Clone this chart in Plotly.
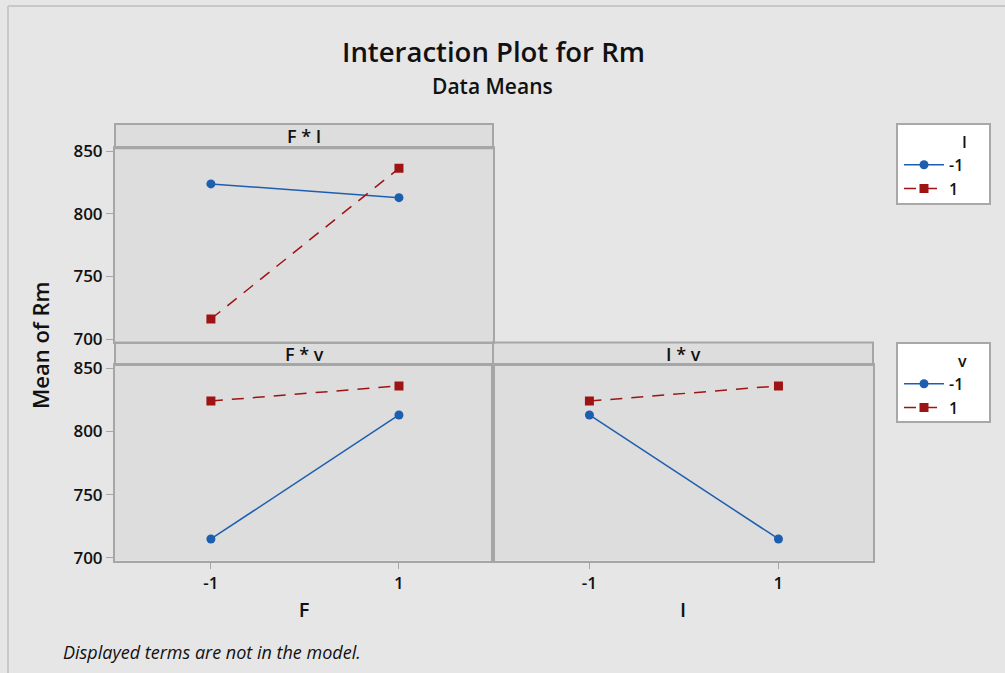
import plotly.graph_objects as go

# ---- data ----
levels = [-1, 1]
tick_vals_y = [700, 750, 800, 850]

# Panel F * I : x = F, series = I
fi_I_minus1 = [824.0, 813.0]
fi_I_plus1 = [716.0, 836.5]
# Panel F * v : x = F, series = v
fv_v_minus1 = [715.0, 813.0]
fv_v_plus1 = [824.0, 836.0]
# Panel I * v : x = I, series = v
iv_v_minus1 = [813.0, 715.0]
iv_v_plus1 = [824.0, 836.0]

series_names = ["-1", "1"]
panel_titles = ["F * I", "F * v", "I * v"]

# ---- style ----
W, H = 1005, 673
BLUE = "#1D5FAE"
RED = "#9E1414"
BORDER = "#A6A6A6"
PANEL = "#DDDDDD"
PAPER = "#E6E6E6"
FONT = "Open Sans"
TXT = "#111111"


def px(x):
    return x / W


def py(y):
    return 1 - y / H


fig = go.Figure()


def add_pair(xa, ya, lo_vals, hi_vals, legend, show):
    fig.add_trace(go.Scatter(
        x=levels, y=lo_vals, name=series_names[0], xaxis=xa, yaxis=ya,
        mode="lines+markers", line=dict(color=BLUE, width=1.5),
        marker=dict(symbol="circle", size=9, color=BLUE),
        legend=legend, showlegend=show))
    fig.add_trace(go.Scatter(
        x=levels, y=hi_vals, name=series_names[1], xaxis=xa, yaxis=ya,
        mode="lines+markers", line=dict(color=RED, width=1.5, dash="12px,9px"),
        marker=dict(symbol="square", size=9, color=RED),
        legend=legend, showlegend=show))


add_pair("x", "y", fi_I_minus1, fi_I_plus1, "legend", True)
add_pair("x2", "y2", fv_v_minus1, fv_v_plus1, "legend2", True)
add_pair("x3", "y3", iv_v_minus1, iv_v_plus1, "legend2", False)

YR = [698, 852.5]
XR = [-2.02, 2.0]
top_y = [py(341.5), py(148.3)]
bot_y = [py(560.5), py(365)]
left_x = [px(115), px(493)]
right_x = [px(493), px(873)]

axis_common = dict(showgrid=False, zeroline=False, showline=True, linecolor=BORDER,
                   linewidth=2, mirror=True, automargin=False)
tickfont = dict(family=FONT, size=17, color=TXT, weight=600)
yaxis_common = dict(axis_common, range=YR, tickvals=tick_vals_y, ticks="outside",
                    ticklen=7, tickcolor=BORDER, tickfont=tickfont)
xaxis_ticks = dict(axis_common, range=XR, tickvals=levels, ticktext=["-1", "1"],
                   ticks="outside", ticklen=6, tickcolor=BORDER, tickfont=tickfont)
axtitle_font = dict(family=FONT, size=20, color=TXT, weight=600)
legfont = dict(family=FONT, size=16, color=TXT, weight=600)

fig.update_layout(
    width=W, height=H,
    margin=dict(l=0, r=0, t=0, b=0, autoexpand=False),
    paper_bgcolor=PAPER, plot_bgcolor=PANEL,
    font=dict(family=FONT, color=TXT),
    xaxis=dict(axis_common, domain=left_x, range=XR, showticklabels=False, ticks="", anchor="y"),
    yaxis=dict(yaxis_common, domain=top_y, anchor="x"),
    xaxis2=dict(xaxis_ticks, domain=left_x, anchor="y2",
                title=dict(text="F", font=axtitle_font, standoff=10)),
    yaxis2=dict(yaxis_common, domain=bot_y, anchor="x2"),
    xaxis3=dict(xaxis_ticks, domain=right_x, anchor="y3",
                title=dict(text="I", font=axtitle_font, standoff=10)),
    yaxis3=dict(yaxis_common, domain=bot_y, anchor="x3", showticklabels=False, ticks=""),
    legend=dict(x=px(899), y=py(127), xanchor="left", yanchor="top",
                bgcolor="rgba(0,0,0,0)", borderwidth=0, font=legfont,
                title=dict(text="I", side="top right", font=legfont),
                tracegroupgap=0, itemwidth=40),
    legend2=dict(x=px(899), y=py(346), xanchor="left", yanchor="top",
                 bgcolor="rgba(0,0,0,0)", borderwidth=0, font=legfont,
                 title=dict(text="v", side="top right", font=legfont),
                 tracegroupgap=0, itemwidth=40),
)

shapes = [
    # outer frame lines
    dict(type="line", xref="paper", yref="paper", x0=px(8), x1=px(8), y0=0, y1=py(6),
         line=dict(color="#C8C8C8", width=2)),
    dict(type="line", xref="paper", yref="paper", x0=px(8), x1=1, y0=py(6), y1=py(6),
         line=dict(color="#C8C8C8", width=2)),
    # strip headers
    dict(type="rect", xref="paper", yref="paper", x0=px(115), x1=px(493), y0=py(148.3), y1=py(124),
         fillcolor=PANEL, line=dict(color=BORDER, width=2), layer="below"),
    dict(type="rect", xref="paper", yref="paper", x0=px(115), x1=px(493), y0=py(365), y1=py(342.5),
         fillcolor=PANEL, line=dict(color=BORDER, width=2), layer="below"),
    dict(type="rect", xref="paper", yref="paper", x0=px(493), x1=px(873), y0=py(365), y1=py(342.5),
         fillcolor=PANEL, line=dict(color=BORDER, width=2), layer="below"),
    # legend boxes
    dict(type="rect", xref="paper", yref="paper", x0=px(897), x1=px(990), y0=py(204), y1=py(124),
         fillcolor="white", line=dict(color="#A8A8A8", width=2), layer="below"),
    dict(type="rect", xref="paper", yref="paper", x0=px(897), x1=px(990), y0=py(422), y1=py(343),
         fillcolor="white", line=dict(color="#A8A8A8", width=2), layer="below"),
]
fig.update_layout(shapes=shapes)

ann = [
    dict(text="Interaction Plot for Rm", x=px(493), y=py(52), xref="paper", yref="paper",
         showarrow=False, font=dict(family=FONT, size=27.5, color=TXT, weight=600),
         xanchor="center", yanchor="middle"),
    dict(text="Data Means", x=px(492), y=py(86), xref="paper", yref="paper",
         showarrow=False, font=dict(family=FONT, size=21, color=TXT, weight=600),
         xanchor="center", yanchor="middle"),
    dict(text="Mean of Rm", x=px(40), y=py(345), xref="paper", yref="paper", textangle=-90,
         showarrow=False, font=dict(family=FONT, size=22, color=TXT, weight=600),
         xanchor="center", yanchor="middle"),
    dict(text="<i>Displayed terms are not in the model.</i>", x=px(61), y=py(652), xref="paper", yref="paper",
         showarrow=False, font=dict(family=FONT, size=18, color=TXT), xanchor="left", yanchor="middle"),
]
for t, (x0, x1), ymid in [(panel_titles[0], (115, 493), 136),
                          (panel_titles[1], (115, 493), 354),
                          (panel_titles[2], (493, 873), 354)]:
    ann.append(dict(text=t, x=px((x0 + x1) / 2), y=py(ymid), xref="paper", yref="paper",
                    showarrow=False, font=dict(family=FONT, size=18, color=TXT, weight=600),
                    xanchor="center", yanchor="middle"))
fig.update_layout(annotations=ann)

fig.write_html("out.html", config={"displayModeBar": False},
               post_script="document.body.style.margin='0';")
